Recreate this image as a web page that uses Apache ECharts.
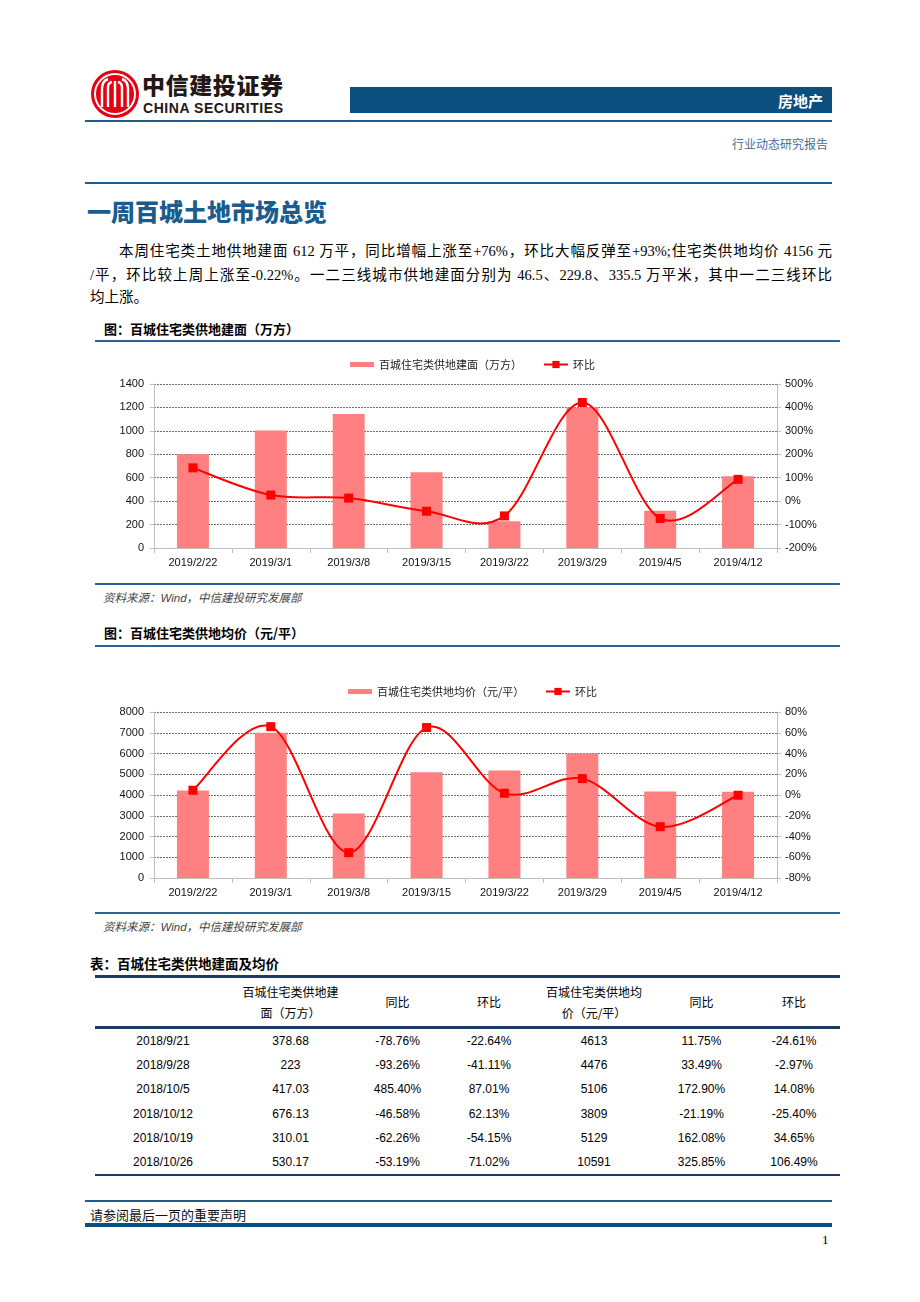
<!DOCTYPE html>
<html><head><meta charset="utf-8">
<script src="https://cdn.jsdelivr.net/npm/echarts@6/dist/echarts.min.js"></script>
<style>
html,body{margin:0;padding:0;background:#fff;}
body{width:920px;height:1302px;position:relative;overflow:hidden;font-family:"Liberation Serif","Noto Sans CJK SC",serif;color:#000;}
.abs{position:absolute;white-space:nowrap;}
.cj{font-family:"Noto Sans CJK SC",sans-serif;}
.cap{font-family:"Noto Sans CJK SC",sans-serif;font-weight:700;font-size:13px;}
.src{font-family:"Liberation Sans","Noto Sans CJK SC",sans-serif;font-style:italic;font-size:11.5px;color:#444;}
.para{position:absolute;left:90px;width:742px;font-size:14.5px;line-height:24px;white-space:nowrap;text-align:justify;text-align-last:justify;font-family:"Liberation Serif","Noto Sans CJK SC",serif;}
table.t{position:absolute;left:95px;top:975px;width:745px;border-collapse:collapse;table-layout:fixed;font-family:"Liberation Sans","Noto Sans CJK SC",sans-serif;font-size:12px;}
table.t td{text-align:center;padding:0;height:24.2px;line-height:24px;}
table.t thead td{height:48px;line-height:21.5px;font-family:"Noto Sans CJK SC",sans-serif;}
</style></head><body>

<!-- header -->
<svg class="abs" style="left:88px;top:67px" width="54" height="54" viewBox="0 0 54 54">
  <circle cx="27" cy="27" r="24" fill="#E60012"/>
  <circle cx="27" cy="27" r="20" fill="none" stroke="#fff" stroke-width="2"/>
  <path d="M14 40 V22 Q14 14 20 12 M20 40 V20 Q20 16 24 15 M34 40 V20 Q34 16 30 15 M40 40 V22 Q40 14 34 12" fill="none" stroke="#fff" stroke-width="2.4"/>
  <path d="M27 14 V40" stroke="#fff" stroke-width="2.4"/>
</svg>
<div class="abs cj" style="left:142px;top:70px;font-size:23px;font-weight:900;line-height:28px;color:#231815;letter-spacing:0.6px">中信建投证券</div>
<div class="abs" style="left:143px;top:100px;font-family:'Liberation Sans',sans-serif;font-size:14px;font-weight:700;line-height:16px;color:#231815;letter-spacing:0.55px">CHINA SECURITIES</div>
<div class="abs" style="left:350px;top:87px;width:482px;height:26px;background:#0A4F7D"></div>
<div class="abs cj" style="left:700px;width:123px;top:90px;font-size:15px;font-weight:700;color:#fff;line-height:22px;text-align:right">房地产</div>
<div class="abs" style="left:85px;top:120px;width:747px;height:2px;background:#1F5C8B"></div>
<div class="abs cj" style="left:600px;width:228px;top:136px;font-size:12px;line-height:16px;color:#3F6F9A;text-align:right">行业动态研究报告</div>
<div class="abs" style="left:85px;top:182px;width:747px;height:1.5px;background:#1F5C8B"></div>

<div class="abs cj" style="left:87px;top:196px;font-size:24px;font-weight:900;line-height:30px;color:#1B5C8E">一周百城土地市场总览</div>

<div class="para" style="top:239px;text-indent:29px">本周住宅类土地供地建面 612 万平，同比增幅上涨至+76%，环比大幅反弹至+93%;住宅类供地均价 4156 元</div>
<div class="para" style="top:263px">/平，环比较上周上涨至-0.22%。一二三线城市供地建面分别为 46.5、229.8、335.5 万平米，其中一二三线环比</div>
<div class="para" style="top:285px;text-align-last:left">均上涨。</div>

<!-- figure 1 -->
<div class="abs cap" style="left:104px;top:320px;line-height:18px">图：百城住宅类供地建面（万方）</div>
<div class="abs" style="left:95px;top:340px;width:745px;height:2px;background:#2A6496"></div>
<div id="c1" class="abs" style="left:95px;top:350px;width:745px;height:232px"></div>
<div class="abs" style="left:95px;top:583px;width:745px;height:2px;background:#2A6496"></div>
<div class="abs src" style="left:103px;top:590px;line-height:16px">资料来源：Wind，中信建投研究发展部</div>

<!-- figure 2 -->
<div class="abs cap" style="left:104px;top:624px;line-height:18px">图：百城住宅类供地均价（元/平）</div>
<div class="abs" style="left:95px;top:645px;width:745px;height:2px;background:#2A6496"></div>
<div id="c2" class="abs" style="left:95px;top:678px;width:745px;height:232px"></div>
<div class="abs" style="left:95px;top:912px;width:745px;height:2px;background:#2A6496"></div>
<div class="abs src" style="left:103px;top:919px;line-height:16px">资料来源：Wind，中信建投研究发展部</div>

<!-- table -->
<div class="abs cap" style="left:90px;top:954px;line-height:18px;font-size:13.5px">表：百城住宅类供地建面及均价</div>
<table class="t" id="tbl">
<colgroup><col style="width:136px"><col style="width:119px"><col style="width:95px"><col style="width:88px"><col style="width:122px"><col style="width:93px"><col style="width:92px"></colgroup>
<thead><tr style="border-top:3px solid #1F3864;border-bottom:3px solid #1F3864">
<td></td><td>百城住宅类供地建<br>面（万方）</td><td>同比</td><td>环比</td><td>百城住宅类供地均<br>价（元/平）</td><td>同比</td><td>环比</td>
</tr></thead>
<tbody id="tb"></tbody>
</table>

<!-- footer -->
<div class="abs" style="left:85px;top:1200px;width:747px;height:1.5px;background:#1F5C8B"></div>
<div class="abs cj" style="left:90px;top:1206px;font-size:13px;line-height:18px;color:#111">请参阅最后一页的重要声明</div>
<div class="abs" style="left:85px;top:1223px;width:747px;height:3.5px;background:#0A4F7D"></div>
<div class="abs" style="left:822px;top:1232px;font-size:13px;line-height:16px">1</div>

<script>
// ---------- data ----------
const weeks = ['2019/2/22','2019/3/1','2019/3/8','2019/3/15','2019/3/22','2019/3/29','2019/4/5','2019/4/12'];
const areaName = '百城住宅类供地建面（万方）';
const areaValues = [800, 1003, 1143, 646, 229, 1200, 317, 612];
const areaMoM = [142, 26, 13, -43, -63, 421, -74, 93];
const priceName = '百城住宅类供地均价（元/平）';
const priceValues = [4220, 7000, 3110, 5100, 5185, 6005, 4165, 4156];
const priceMoM = [4.6, 65.9, -55.6, 65, 1.7, 15.8, -30.6, -0.22];

const tableDates = ['2018/9/21','2018/9/28','2018/10/5','2018/10/12','2018/10/19','2018/10/26'];
const tableArea = ['378.68','223','417.03','676.13','310.01','530.17'];
const tableAreaYoY = ['-78.76%','-93.26%','485.40%','-46.58%','-62.26%','-53.19%'];
const tableAreaMoM = ['-22.64%','-41.11%','87.01%','62.13%','-54.15%','71.02%'];
const tablePrice = ['4613','4476','5106','3809','5129','10591'];
const tablePriceYoY = ['11.75%','33.49%','172.90%','-21.19%','162.08%','325.85%'];
const tablePriceMoM = ['-24.61%','-2.97%','14.08%','-25.40%','34.65%','106.49%'];

// ---------- table ----------
const tb = document.getElementById('tb');
tableDates.forEach((d,i)=>{
  const tr = document.createElement('tr');
  if(i===tableDates.length-1) tr.style.borderBottom='2.5px solid #1F3864';
  [d,tableArea[i],tableAreaYoY[i],tableAreaMoM[i],tablePrice[i],tablePriceYoY[i],tablePriceMoM[i]].forEach(v=>{
    const td=document.createElement('td'); td.textContent=v; tr.appendChild(td);
  });
  tb.appendChild(tr);
});

// ---------- charts ----------
// smooth curve through the points (Catmull-Rom style, like spreadsheet smoothing), positioned with api.coord
function curveSeries(pct){
  return {
    type:'custom', name:'环比曲线', yAxisIndex:1, silent:true, z:3,
    data: pct.map((v,i)=>[i,v]),
    renderItem:function(params, api){
      const i = params.dataIndex;
      if(i >= pct.length-1) return null;
      const P = j => api.coord([Math.max(0,Math.min(pct.length-1,j)), pct[Math.max(0,Math.min(pct.length-1,j))]]);
      const p0=P(i-1), p1=P(i), p2=P(i+1), p3=P(i+2);
      const k = 1/6;
      return {
        type:'bezierCurve',
        shape:{x1:p1[0], y1:p1[1], x2:p2[0], y2:p2[1],
               cpx1:p1[0]+(p2[0]-p0[0])*k, cpy1:p1[1]+(p2[1]-p0[1])*k,
               cpx2:p2[0]-(p3[0]-p1[0])*k, cpy2:p2[1]-(p3[1]-p1[1])*k},
        style:{stroke:'#FF0000', lineWidth:2, fill:null}
      };
    }
  };
}
function makeOption(barName, bars, pct, yMax, yInt, rMin, rMax, rInt, plotH, legendLeft, legendTop){
  const axisGrey = '#BFBFBF';
  const lblFont = {fontFamily:'Liberation Sans, Arial, sans-serif', fontSize:11, color:'#111'};
  return {
    animation:false,
    legend:[
      {left:legendLeft[0], top:legendTop, padding:0, itemWidth:24, itemHeight:5, itemGap:0, selectedMode:false,
       data:[{name:barName, icon:'rect'}],
       textStyle:{fontFamily:'Noto Sans CJK SC', fontSize:11, color:'#222'}},
      {left:legendLeft[1], top:legendTop, padding:0, itemWidth:24, itemHeight:9, itemGap:0, selectedMode:false,
       data:[{name:'环比', lineStyle:{color:'#FF0000', width:2, opacity:1}}],
       textStyle:{fontFamily:'Noto Sans CJK SC', fontSize:11, color:'#222'}}
    ],
    grid:{left:59, right:63, top:34, height:plotH},
    xAxis:{type:'category', data:weeks, boundaryGap:true,
      axisLine:{lineStyle:{color:axisGrey, width:1}},
      axisTick:{show:true, length:5, lineStyle:{color:axisGrey}},
      axisLabel:Object.assign({margin:9}, lblFont)},
    yAxis:[
      {type:'value', min:0, max:yMax, interval:yInt,
       axisLine:{show:true, lineStyle:{color:axisGrey}},
       axisTick:{show:true, length:4, lineStyle:{color:axisGrey}},
       splitLine:{show:true, lineStyle:{color:'#6E6E6E', width:1, type:[2,1]}},
       axisLabel:Object.assign({margin:10, formatter:v=>String(v)}, lblFont)},
      {type:'value', min:rMin, max:rMax, interval:rInt, position:'right',
       axisLine:{show:true, lineStyle:{color:axisGrey}},
       axisTick:{show:true, length:4, lineStyle:{color:axisGrey}},
       splitLine:{show:false},
       axisLabel:Object.assign({margin:8, formatter:v=>v+'%'}, lblFont)}
    ],
    series:[
      {type:'bar', name:barName, data:bars, barWidth:32, itemStyle:{color:'#FF8080'}},
      curveSeries(pct),
      {type:'line', name:'环比', yAxisIndex:1, data:pct, z:4,
       symbol:'rect', symbolSize:9, showAllSymbol:true,
       lineStyle:{color:'#FF0000', width:0, opacity:0}, itemStyle:{color:'#FF0000'}}
    ]
  };
}
echarts.init(document.getElementById('c1'), null, {renderer:'canvas'})
  .setOption(makeOption(areaName, areaValues, areaMoM, 1400, 200, -200, 500, 100, 164, [255, 448], 9));
echarts.init(document.getElementById('c2'), null, {renderer:'canvas'})
  .setOption(makeOption(priceName, priceValues, priceMoM, 8000, 1000, -80, 80, 20, 166, [253, 450], 8));
</script>
</body></html>
